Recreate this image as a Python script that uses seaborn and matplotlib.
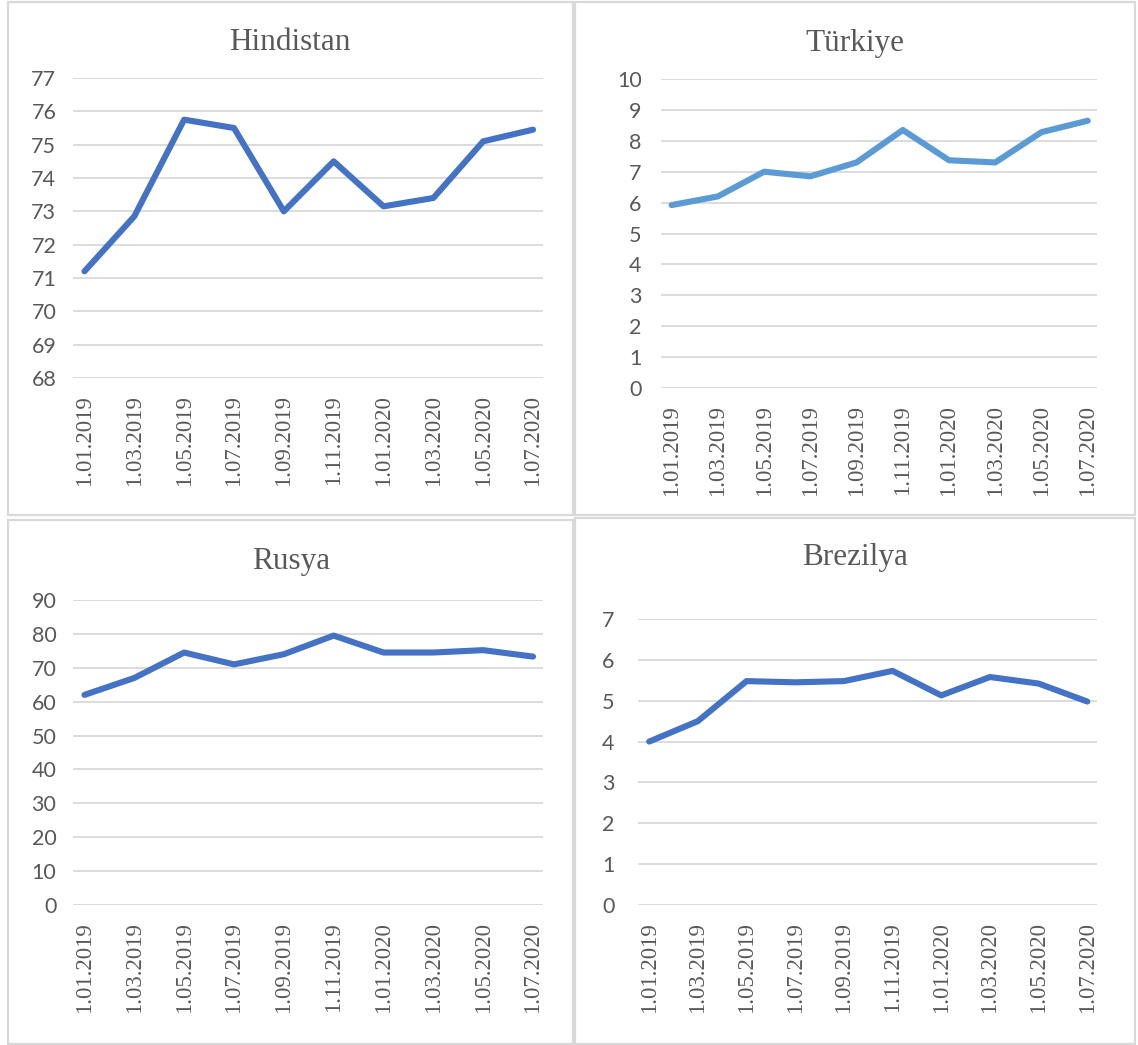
import matplotlib
matplotlib.use("Agg")
import matplotlib.pyplot as plt
from matplotlib.patches import Rectangle
import seaborn as sns
import pandas as pd

dates = ["1.01.2019", "1.03.2019", "1.05.2019", "1.07.2019", "1.09.2019",
         "1.11.2019", "1.01.2020", "1.03.2020", "1.05.2020", "1.07.2020"]

hindistan = [71.2, 72.85, 75.75, 75.5, 73.0, 74.5, 73.15, 73.4, 75.1, 75.45]
turkiye = [5.92, 6.2, 7.0, 6.85, 7.3, 8.35, 7.37, 7.3, 8.28, 8.65]
rusya = [62.0, 67.0, 74.5, 71.0, 74.0, 79.5, 74.5, 74.5, 75.2, 73.3]
brezilya = [4.0, 4.5, 5.48, 5.45, 5.48, 5.73, 5.13, 5.58, 5.42, 4.98]

titles = ["Hindistan", "Türkiye", "Rusya", "Brezilya"]
series = [hindistan, turkiye, rusya, brezilya]
colors = ["#4472C4", "#5B9BD5", "#4472C4", "#4472C4"]
yranges = [(68, 77, 1), (0, 10, 1), (0, 90, 10), (0, 7, 1)]

sns.set_theme(style="white")
plt.rcParams["font.family"] = ["Lato", "DejaVu Sans"]

W, H = 1138, 1045
fig = plt.figure(figsize=(W / 100, H / 100), dpi=100)
fig.patch.set_facecolor("white")

# panel frames (pixels: x0, y0, x1, y1)
frames = [(8, 2, 573, 515), (575, 2, 1135, 515), (8, 520, 573, 1044), (575, 518, 1135, 1044)]
for x0, y0, x1, y1 in frames:
    fig.patches.append(Rectangle((x0 / W, 1 - y1 / H), (x1 - x0) / W, (y1 - y0) / H,
                                 transform=fig.transFigure, fill=False,
                                 edgecolor="#D9D9D9", linewidth=1.6))

# axes rectangles in pixels: left, top, right, bottom
axpos = [(73, 78, 543, 378), (661, 79, 1097, 388), (73, 600, 543, 905), (638, 619, 1097, 905)]
titley = [43, 43, 561, 558]
title_x = [290, 855, 291, 855]
ypads = [12, 14, 12, 17]
serif = ["Liberation Serif", "DejaVu Serif"]

for i in range(4):
    l, t, r, b = axpos[i]
    ax = fig.add_axes([l / W, 1 - b / H, (r - l) / W, (b - t) / H])
    df = pd.DataFrame({"date": dates, "value": series[i]})
    sns.lineplot(data=df, x="date", y="value", ax=ax, color=colors[i],
                 linewidth=4.4, solid_capstyle="round", solid_joinstyle="round",
                 sort=False)
    lo, hi, step = yranges[i]
    ax.set_ylim(lo, hi)
    ax.set_yticks(list(range(lo, hi + 1, step)))
    ax.set_xlim(-0.23, 9.2)
    ax.set_xticks(range(len(dates)))
    ax.set_xticklabels(dates, rotation=90, family=serif)
    ax.set_xlabel("")
    ax.set_ylabel("")
    ax.grid(axis="y", color="#D9D9D9", linewidth=1.3)
    ax.grid(axis="x", visible=False)
    ax.set_axisbelow(True)
    for s in ax.spines.values():
        s.set_visible(False)
    ax.tick_params(axis="y", length=0, pad=ypads[i], labelsize=15.5, labelcolor="#595959")
    ax.tick_params(axis="x", length=0, pad=12, labelsize=16.5, labelcolor="#595959")
    fig.text(title_x[i] / W, 1 - titley[i] / H, titles[i], ha="center", va="center",
             fontsize=22.5, color="#595959", family=serif)

fig.savefig("out.png", dpi=100, facecolor="white")
